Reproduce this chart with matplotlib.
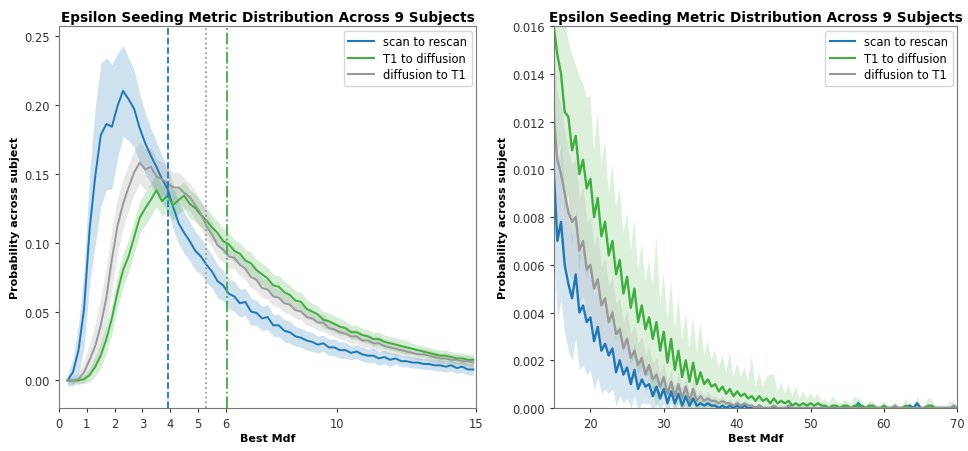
import numpy as np
import matplotlib.pyplot as plt

# ---- data ----
series_names = ['scan to rescan', 'T1 to diffusion', 'diffusion to T1']
series_colors = ['#1f77b4', '#3fae3f', '#999999']

# left panel: Best Mdf 0-15, bins of 0.2
x_left = np.round(np.arange(0.3, 15.0, 0.2), 1)

scan_left = [
    0.000, 0.006, 0.022, 0.052, 0.110, 0.148, 0.178, 0.186, 0.184, 0.199,
    0.210, 0.204, 0.197, 0.183, 0.172, 0.163, 0.155, 0.146, 0.139, 0.126,
    0.114, 0.107, 0.101, 0.094, 0.090, 0.084, 0.079, 0.072, 0.069, 0.063,
    0.061, 0.056, 0.057, 0.050, 0.049, 0.045, 0.046, 0.040, 0.040, 0.036,
    0.035, 0.032, 0.031, 0.029, 0.028, 0.026, 0.027, 0.024, 0.024, 0.022,
    0.022, 0.020, 0.021, 0.019, 0.018, 0.018, 0.016, 0.017, 0.015, 0.016,
    0.014, 0.014, 0.013, 0.013, 0.012, 0.012, 0.011, 0.011, 0.010, 0.011,
    0.009, 0.010, 0.008, 0.008]
scan_left_sd = [
    0.004, 0.010, 0.018, 0.028, 0.040, 0.050, 0.052, 0.048, 0.045, 0.038,
    0.033, 0.030, 0.028, 0.025, 0.022, 0.020, 0.018, 0.017, 0.016, 0.016,
    0.015, 0.015, 0.014, 0.014, 0.013, 0.013, 0.012, 0.012, 0.011, 0.011,
    0.011, 0.010, 0.010, 0.010, 0.009, 0.009, 0.009, 0.008, 0.008, 0.008,
    0.008, 0.007, 0.007, 0.007, 0.007, 0.006, 0.006, 0.006, 0.006, 0.006,
    0.006, 0.005, 0.005, 0.005, 0.005, 0.005, 0.005, 0.005, 0.005, 0.004,
    0.004, 0.004, 0.004, 0.004, 0.004, 0.004, 0.004, 0.004, 0.004, 0.004,
    0.004, 0.004, 0.004, 0.004]

t1_left = [
    0.000, 0.000, 0.000, 0.001, 0.004, 0.010, 0.018, 0.030, 0.045, 0.064,
    0.080, 0.090, 0.104, 0.118, 0.125, 0.131, 0.138, 0.130, 0.134, 0.127,
    0.131, 0.134, 0.128, 0.125, 0.120, 0.116, 0.111, 0.107, 0.101, 0.099,
    0.094, 0.092, 0.087, 0.085, 0.080, 0.077, 0.074, 0.069, 0.068, 0.064,
    0.062, 0.058, 0.057, 0.052, 0.050, 0.048, 0.044, 0.043, 0.041, 0.039,
    0.038, 0.035, 0.035, 0.033, 0.032, 0.030, 0.030, 0.028, 0.027, 0.026,
    0.025, 0.024, 0.023, 0.022, 0.021, 0.020, 0.019, 0.018, 0.018, 0.017,
    0.016, 0.016, 0.015, 0.015]
t1_left_sd = [
    0.001, 0.002, 0.002, 0.003, 0.005, 0.007, 0.009, 0.010, 0.011, 0.012,
    0.012, 0.012, 0.012, 0.012, 0.012, 0.012, 0.012, 0.011, 0.011, 0.011,
    0.010, 0.010, 0.010, 0.010, 0.009, 0.009, 0.009, 0.009, 0.009, 0.008,
    0.008, 0.008, 0.008, 0.008, 0.008, 0.008, 0.008, 0.008, 0.008, 0.008,
    0.007, 0.007, 0.007, 0.007, 0.006, 0.006, 0.006, 0.006, 0.006, 0.006,
    0.005, 0.005, 0.005, 0.005, 0.005, 0.005, 0.005, 0.005, 0.005, 0.005,
    0.005, 0.005, 0.004, 0.004, 0.004, 0.004, 0.004, 0.004, 0.004, 0.004,
    0.004, 0.004, 0.004, 0.004]

diff_left = [
    0.000, 0.000, 0.001, 0.006, 0.015, 0.025, 0.040, 0.060, 0.088, 0.112,
    0.128, 0.140, 0.151, 0.158, 0.153, 0.155, 0.148, 0.146, 0.143, 0.140,
    0.140, 0.136, 0.133, 0.127, 0.121, 0.112, 0.106, 0.098, 0.095, 0.090,
    0.089, 0.084, 0.081, 0.075, 0.073, 0.067, 0.066, 0.061, 0.060, 0.056,
    0.055, 0.051, 0.050, 0.046, 0.045, 0.042, 0.042, 0.038, 0.037, 0.035,
    0.034, 0.032, 0.032, 0.029, 0.029, 0.027, 0.027, 0.025, 0.024, 0.023,
    0.022, 0.021, 0.020, 0.019, 0.019, 0.018, 0.017, 0.016, 0.016, 0.015,
    0.015, 0.014, 0.014, 0.013]
diff_left_sd = [
    0.002, 0.003, 0.004, 0.008, 0.012, 0.016, 0.020, 0.022, 0.022, 0.020,
    0.018, 0.017, 0.016, 0.015, 0.015, 0.014, 0.013, 0.012, 0.012, 0.011,
    0.011, 0.011, 0.010, 0.010, 0.010, 0.010, 0.009, 0.009, 0.009, 0.009,
    0.008, 0.008, 0.008, 0.008, 0.008, 0.007, 0.007, 0.007, 0.007, 0.007,
    0.007, 0.006, 0.006, 0.006, 0.006, 0.006, 0.006, 0.005, 0.005, 0.005,
    0.005, 0.005, 0.005, 0.005, 0.005, 0.005, 0.005, 0.005, 0.005, 0.005,
    0.004, 0.004, 0.004, 0.004, 0.004, 0.004, 0.004, 0.004, 0.004, 0.004,
    0.004, 0.004, 0.004, 0.004]

# threshold lines on the left panel
vline_pos = [3.9, 5.3, 6.05]
vline_styles = ['--', ':', '-.']
vline_colors = ['#1f77b4', '#999999', '#3fae3f']

# right panel: Best Mdf 15-70, bins of 0.5
x_right = np.round(np.arange(15.0, 70.01, 0.5), 1)

scan_right = [
    0.0100, 0.0070, 0.0078, 0.0060, 0.0052, 0.0046, 0.0056, 0.0040, 0.0043, 0.0036,
    0.0038, 0.0028, 0.0034, 0.0024, 0.0027, 0.0022, 0.0025, 0.0015, 0.0020, 0.0014,
    0.0017, 0.0010, 0.0016, 0.0008, 0.0012, 0.0009, 0.0010, 0.0005, 0.0009, 0.0004,
    0.0008, 0.0002, 0.0007, 0.0002, 0.0006, 0.0001, 0.0005, 0.0001, 0.0004, 0.0001,
    0.0002, 0.0001, 0.0002, 0.0001, 0.0001, 0.0000, 0.0001, 0.0000, 0.0001, 0.0000,
    0.0001, 0.0000, 0.0001, 0.0000, 0.0000, 0.0000, 0.0001, 0.0000, 0.0000, 0.0000,
    0.0000, 0.0000, 0.0000, 0.0000, 0.0000, 0.0000, 0.0000, 0.0000, 0.0000, 0.0000,
    0.0000, 0.0000, 0.0000, 0.0000, 0.0000, 0.0000, 0.0000, 0.0000, 0.0000, 0.0000,
    0.0000, 0.0000, 0.0000, 0.0002, 0.0000, 0.0000, 0.0000, 0.0000, 0.0000, 0.0000,
    0.0000, 0.0000, 0.0000, 0.0000, 0.0000, 0.0000, 0.0000, 0.0001, 0.0000, 0.0002,
    0.0000, 0.0000, 0.0000, 0.0000, 0.0000, 0.0000, 0.0000, 0.0000, 0.0000, 0.0000,
    0.0000]
scan_right_sd = [
    0.0035, 0.0032, 0.0033, 0.0029, 0.0028, 0.0026, 0.0027, 0.0024, 0.0025, 0.0022,
    0.0022, 0.0020, 0.0021, 0.0018, 0.0019, 0.0016, 0.0017, 0.0014, 0.0015, 0.0012,
    0.0013, 0.0010, 0.0011, 0.0009, 0.0010, 0.0007, 0.0008, 0.0006, 0.0007, 0.0005,
    0.0006, 0.0004, 0.0005, 0.0003, 0.0004, 0.0003, 0.0004, 0.0002, 0.0003, 0.0002,
    0.0002, 0.0001, 0.0002, 0.0001, 0.0002, 0.0001, 0.0001, 0.0001, 0.0001, 0.0001,
    0.0001, 0.0000, 0.0001, 0.0000, 0.0000, 0.0000, 0.0001, 0.0000, 0.0000, 0.0000,
    0.0000, 0.0000, 0.0000, 0.0000, 0.0000, 0.0000, 0.0000, 0.0000, 0.0000, 0.0000,
    0.0000, 0.0000, 0.0000, 0.0000, 0.0000, 0.0000, 0.0000, 0.0000, 0.0000, 0.0000,
    0.0000, 0.0000, 0.0000, 0.0003, 0.0000, 0.0000, 0.0000, 0.0000, 0.0000, 0.0000,
    0.0000, 0.0000, 0.0000, 0.0000, 0.0000, 0.0000, 0.0000, 0.0002, 0.0000, 0.0003,
    0.0000, 0.0000, 0.0000, 0.0000, 0.0000, 0.0000, 0.0000, 0.0000, 0.0000, 0.0000,
    0.0000]

t1_right = [
    0.0160, 0.0148, 0.0140, 0.0124, 0.0122, 0.0108, 0.0114, 0.0098, 0.0104, 0.0092,
    0.0096, 0.0080, 0.0088, 0.0072, 0.0078, 0.0064, 0.0070, 0.0056, 0.0062, 0.0048,
    0.0055, 0.0042, 0.0050, 0.0036, 0.0043, 0.0033, 0.0038, 0.0029, 0.0036, 0.0024,
    0.0032, 0.0019, 0.0029, 0.0016, 0.0024, 0.0013, 0.0020, 0.0011, 0.0019, 0.0010,
    0.0015, 0.0010, 0.0012, 0.0009, 0.0010, 0.0007, 0.0009, 0.0006, 0.0008, 0.0005,
    0.0007, 0.0005, 0.0006, 0.0004, 0.0005, 0.0003, 0.0005, 0.0003, 0.0004, 0.0002,
    0.0004, 0.0002, 0.0003, 0.0002, 0.0003, 0.0001, 0.0002, 0.0001, 0.0002, 0.0001,
    0.0002, 0.0001, 0.0002, 0.0001, 0.0001, 0.0000, 0.0001, 0.0001, 0.0000, 0.0001,
    0.0001, 0.0000, 0.0001, 0.0001, 0.0001, 0.0000, 0.0001, 0.0001, 0.0000, 0.0000,
    0.0001, 0.0000, 0.0000, 0.0000, 0.0000, 0.0000, 0.0001, 0.0000, 0.0000, 0.0000,
    0.0000, 0.0000, 0.0001, 0.0001, 0.0000, 0.0000, 0.0000, 0.0000, 0.0000, 0.0000,
    0.0000]
t1_right_sd = [
    0.0030, 0.0040, 0.0030, 0.0042, 0.0032, 0.0040, 0.0030, 0.0041, 0.0032, 0.0038,
    0.0035, 0.0028, 0.0036, 0.0030, 0.0034, 0.0026, 0.0032, 0.0028, 0.0030, 0.0025,
    0.0027, 0.0024, 0.0029, 0.0022, 0.0026, 0.0020, 0.0024, 0.0022, 0.0036, 0.0020,
    0.0024, 0.0018, 0.0024, 0.0017, 0.0022, 0.0016, 0.0020, 0.0014, 0.0019, 0.0013,
    0.0021, 0.0012, 0.0016, 0.0011, 0.0014, 0.0010, 0.0013, 0.0009, 0.0015, 0.0008,
    0.0012, 0.0008, 0.0011, 0.0007, 0.0017, 0.0006, 0.0010, 0.0006, 0.0009, 0.0012,
    0.0010, 0.0005, 0.0008, 0.0004, 0.0007, 0.0004, 0.0007, 0.0003, 0.0005, 0.0003,
    0.0004, 0.0003, 0.0004, 0.0002, 0.0003, 0.0002, 0.0004, 0.0002, 0.0002, 0.0002,
    0.0002, 0.0002, 0.0004, 0.0002, 0.0002, 0.0001, 0.0002, 0.0002, 0.0001, 0.0001,
    0.0002, 0.0001, 0.0001, 0.0002, 0.0001, 0.0001, 0.0003, 0.0001, 0.0001, 0.0001,
    0.0001, 0.0001, 0.0003, 0.0003, 0.0001, 0.0001, 0.0001, 0.0001, 0.0003, 0.0002,
    0.0001]

diff_right = [
    0.0122, 0.0104, 0.0098, 0.0090, 0.0082, 0.0078, 0.0080, 0.0066, 0.0070, 0.0058,
    0.0060, 0.0050, 0.0054, 0.0043, 0.0046, 0.0036, 0.0040, 0.0031, 0.0033, 0.0025,
    0.0029, 0.0021, 0.0024, 0.0018, 0.0021, 0.0014, 0.0018, 0.0012, 0.0014, 0.0009,
    0.0013, 0.0006, 0.0011, 0.0005, 0.0010, 0.0004, 0.0009, 0.0003, 0.0008, 0.0003,
    0.0005, 0.0003, 0.0004, 0.0003, 0.0003, 0.0002, 0.0003, 0.0002, 0.0002, 0.0001,
    0.0002, 0.0001, 0.0002, 0.0001, 0.0001, 0.0000, 0.0001, 0.0000, 0.0000, 0.0000,
    0.0001, 0.0000, 0.0000, 0.0000, 0.0001, 0.0000, 0.0000, 0.0000, 0.0000, 0.0000,
    0.0000, 0.0000, 0.0000, 0.0000, 0.0000, 0.0000, 0.0000, 0.0000, 0.0000, 0.0000,
    0.0000, 0.0000, 0.0000, 0.0000, 0.0000, 0.0000, 0.0000, 0.0000, 0.0000, 0.0000,
    0.0000, 0.0000, 0.0000, 0.0001, 0.0000, 0.0000, 0.0000, 0.0000, 0.0000, 0.0000,
    0.0000, 0.0000, 0.0000, 0.0000, 0.0000, 0.0000, 0.0000, 0.0000, 0.0000, 0.0001,
    0.0000]
diff_right_sd = [
    0.0030, 0.0028, 0.0029, 0.0026, 0.0026, 0.0024, 0.0025, 0.0022, 0.0023, 0.0020,
    0.0020, 0.0018, 0.0019, 0.0016, 0.0017, 0.0015, 0.0015, 0.0013, 0.0013, 0.0011,
    0.0012, 0.0010, 0.0011, 0.0009, 0.0009, 0.0008, 0.0008, 0.0007, 0.0007, 0.0006,
    0.0006, 0.0005, 0.0005, 0.0004, 0.0005, 0.0004, 0.0004, 0.0003, 0.0004, 0.0003,
    0.0003, 0.0002, 0.0003, 0.0002, 0.0002, 0.0002, 0.0002, 0.0001, 0.0002, 0.0001,
    0.0002, 0.0001, 0.0001, 0.0001, 0.0001, 0.0000, 0.0001, 0.0000, 0.0000, 0.0000,
    0.0001, 0.0000, 0.0000, 0.0000, 0.0001, 0.0000, 0.0000, 0.0000, 0.0000, 0.0000,
    0.0000, 0.0000, 0.0000, 0.0000, 0.0000, 0.0000, 0.0000, 0.0000, 0.0000, 0.0000,
    0.0000, 0.0000, 0.0000, 0.0000, 0.0000, 0.0000, 0.0000, 0.0000, 0.0000, 0.0000,
    0.0000, 0.0000, 0.0000, 0.0002, 0.0000, 0.0000, 0.0000, 0.0000, 0.0000, 0.0000,
    0.0000, 0.0000, 0.0000, 0.0000, 0.0000, 0.0000, 0.0000, 0.0000, 0.0000, 0.0002,
    0.0000]

TITLE = 'Epsilon Seeding Metric Distribution Across 9 Subjects'


def draw_panel(ax, x, means, sds, lw, band_alpha):
    for m, s, c, name in zip(means, sds, series_colors, series_names):
        m = np.asarray(m)
        s = np.asarray(s)
        ax.fill_between(x, m - s, m + s, color=c, alpha=band_alpha, linewidth=0)
        ax.plot(x, m, color=c, linewidth=lw, label=name)
    ax.set_title(TITLE, fontsize=9.8, fontweight='bold', pad=4)
    ax.set_xlabel('Best Mdf', fontsize=8, fontweight='bold', labelpad=2)
    ax.set_ylabel('Probability across subject', fontsize=8, fontweight='bold', labelpad=3)
    ax.tick_params(labelsize=8.3, colors='#333333', length=3)
    for sp in ax.spines.values():
        sp.set_color('#777777')
    leg = ax.legend(loc='upper right', fontsize=8.3, frameon=True, handlelength=2.2,
                    borderaxespad=0.4, labelspacing=0.3)
    for ln in leg.get_lines():
        ln.set_linewidth(1.5)


fig = plt.figure(figsize=(9.68, 4.52), dpi=100)

# 左图
ax1 = fig.add_axes([0.061, 0.095, 0.431, 0.845])
draw_panel(ax1, x_left,
           [scan_left, t1_left, diff_left],
           [scan_left_sd, t1_left_sd, diff_left_sd], lw=1.4, band_alpha=0.22)
for xv, ls, c in zip(vline_pos, vline_styles, vline_colors):
    ax1.axvline(xv, linestyle=ls, color=c, linewidth=1.3)
ax1.set_xlim(0, 15)
ax1.set_ylim(-0.02, 0.257)
ax1.set_xticks([0, 1, 2, 3, 4, 5, 6, 10, 15])
ax1.set_yticks([0.0, 0.05, 0.10, 0.15, 0.20, 0.25])

# 右图
ax2 = fig.add_axes([0.572, 0.095, 0.417, 0.845])
draw_panel(ax2, x_right,
           [scan_right, t1_right, diff_right],
           [scan_right_sd, t1_right_sd, diff_right_sd], lw=1.7, band_alpha=0.18)
ax2.set_xlim(15, 70)
ax2.set_ylim(0, 0.016)
ax2.set_xticks([20, 30, 40, 50, 60, 70])
ax2.set_yticks(np.arange(0, 0.0161, 0.002))

fig.savefig('out.png', dpi=100)
